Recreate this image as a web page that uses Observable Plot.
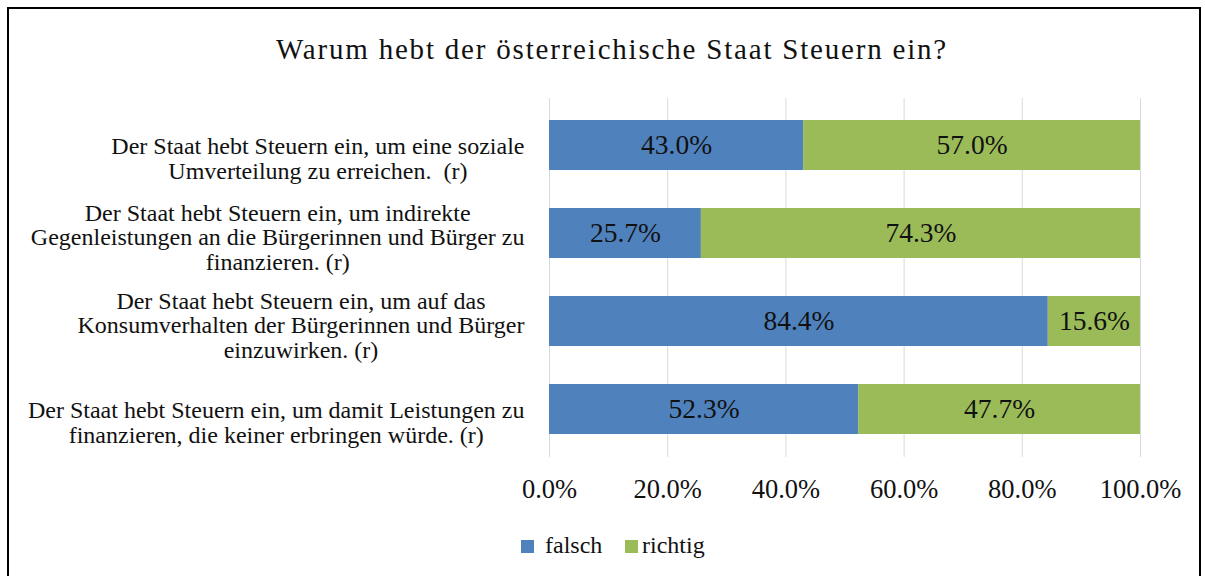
<!DOCTYPE html>
<html>
<head>
<meta charset="utf-8">
<script src="https://cdn.jsdelivr.net/npm/d3@7"></script>
<script src="https://cdn.jsdelivr.net/npm/@observablehq/plot@0.6"></script>
<style>
  html, body { margin: 0; padding: 0; background: #fff; }
  body { width: 1205px; height: 576px; overflow: hidden; font-family: "Liberation Serif", "Times New Roman", serif; }
  #wrap { position: relative; width: 1205px; height: 576px; }
  #frame { position: absolute; left: 7px; top: 7px; width: 1194px; height: 600px; border: 2.5px solid #000; box-sizing: border-box; }
  #title { position: absolute; top: 35px; left: 16px; width: 1192px; text-align: center; font-size: 29px; line-height: 29px; letter-spacing: 1.8px; color: #111; white-space: nowrap; }
  #chart { position: absolute; left: 0; top: 0; }
  #legend { position: absolute; top: 0; left: 0; font-size: 24px; line-height: 24px; color: #111; }
  #legend .sw { position: absolute; width: 13px; height: 13px; }
  #legend .lb { position: absolute; white-space: nowrap; }
</style>
</head>
<body>
<div id="wrap">
  <div id="frame"></div>
  <div id="title">Warum hebt der österreichische Staat Steuern ein?</div>
  <div id="chart"></div>
  <div id="legend"></div>
</div>
<script>
const categories = [
  "Der Staat hebt Steuern ein, um eine soziale\nUmverteilung zu erreichen.  (r)",
  "Der Staat hebt Steuern ein, um indirekte\nGegenleistungen an die Bürgerinnen und Bürger zu\nfinanzieren. (r)",
  "Der Staat hebt Steuern ein, um auf das\nKonsumverhalten der Bürgerinnen und Bürger\neinzuwirken. (r)",
  "Der Staat hebt Steuern ein, um damit Leistungen zu\nfinanzieren, die keiner erbringen würde. (r)"
];
const series = ["falsch", "richtig"];
const falsch = [43.0, 25.7, 84.4, 52.3];
const richtig = [57.0, 74.3, 15.6, 47.7];
const colors = ["#4F81BD", "#9BBB59"];
const xTicks = [0, 20, 40, 60, 80, 100];

const rows = [];
categories.forEach((c, i) => {
  rows.push({cat: c, series: "falsch", value: falsch[i]});
  rows.push({cat: c, series: "richtig", value: richtig[i]});
});

const FONT = '"Liberation Serif", "Times New Roman", serif';
const labelSize = 24;
const ctx = document.createElement("canvas").getContext("2d");
ctx.font = `${labelSize}px ${FONT}`;

const labelMarks = categories.map(c => {
  const lines = c.split("\n");
  const w = Math.max(...lines.map(l => ctx.measureText(l).width));
  const dy = lines.length === 2 ? 13 : 4;
  return Plot.text([c], {
    y: d => d, text: d => d, frameAnchor: "left",
    dx: -(25 + w / 2), dy, textAnchor: "middle", lineAnchor: "middle",
    fontSize: labelSize, lineHeight: 24.5 / labelSize, fill: "#111", fontFamily: FONT
  });
});

const plot = Plot.plot({
  width: 1205,
  height: 520,
  marginLeft: 549,
  marginRight: 65,
  marginTop: 98,
  marginBottom: 63,
  style: {fontFamily: FONT, background: "transparent"},
  x: {domain: [0, 100]},
  y: {domain: categories, paddingInner: 0.43, paddingOuter: 0.235, axis: null},
  color: {domain: series, range: colors},
  marks: [
    Plot.gridX(xTicks, {stroke: "#d9d9d9", strokeOpacity: 1, strokeWidth: 1}),
    Plot.barX(rows, Plot.stackX({x: "value", y: "cat", fill: "series", order: series})),
    Plot.text(rows, Plot.stackX({x: "value", y: "cat", z: "series", order: series,
      text: d => d.value.toFixed(1) + "%", fontSize: 27.5, fill: "#111", fontFamily: FONT})),
    Plot.axisX({ticks: xTicks, tickFormat: d => d.toFixed(1) + "%", tickSize: 0,
      tickPadding: 22, fontSize: 26.5, fill: "#111", label: null, fontFamily: FONT}),
    ...labelMarks
  ]
});
document.getElementById("chart").appendChild(plot);

// legend built from the same series / colour arrays
const legend = document.getElementById("legend");
const legendPos = [{sw: 521, lb: 545}, {sw: 625, lb: 642}];
series.forEach((s, i) => {
  const sw = document.createElement("span");
  sw.className = "sw";
  sw.style.background = colors[i];
  sw.style.left = legendPos[i].sw + "px";
  sw.style.top = "540px";
  const lb = document.createElement("span");
  lb.className = "lb";
  lb.textContent = s;
  lb.style.left = legendPos[i].lb + "px";
  lb.style.top = "533px";
  legend.appendChild(sw);
  legend.appendChild(lb);
});
</script>
</body>
</html>
